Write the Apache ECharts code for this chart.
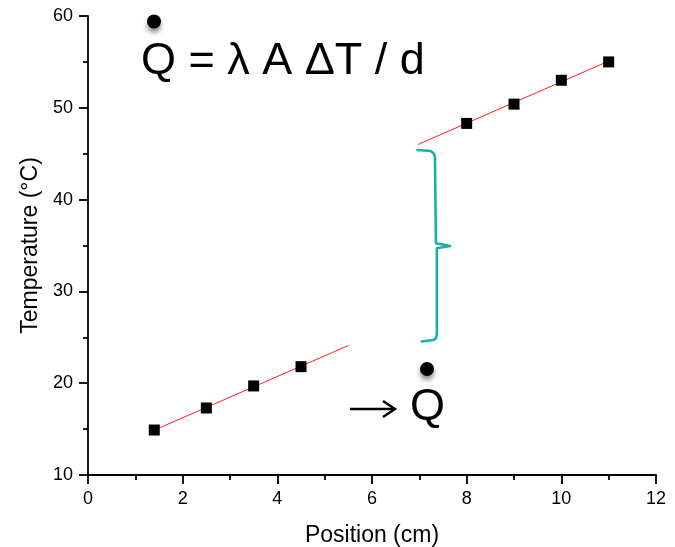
<!DOCTYPE html>
<html>
<head>
<meta charset="utf-8">
<script src="https://cdn.jsdelivr.net/npm/echarts@6/dist/echarts.min.js"></script>
<style>html,body{margin:0;padding:0;background:#fff;}#c{width:675px;height:547px;}</style>
</head>
<body>
<div id="c"></div>
<script>
// Measured data
var lowerX = [1.4, 2.5, 3.5, 4.5];
var lowerY = [14.9, 17.3, 19.7, 21.8];
var upperX = [8, 9, 10, 11];
var upperY = [48.3, 50.4, 53.0, 55.0];
// Fit-line endpoints
var lowerFitX = [1.45, 5.5];
var lowerFitY = [15.0, 24.1];
var upperFitX = [6.97, 11.05];
var upperFitY = [46.0, 55.2];
// Curly brace outline (data coords)
var braceX = [6.96, 7.24, 7.31, 7.33, 7.35, 7.65, 7.37, 7.37, 7.35, 7.30, 7.05];
var braceY = [45.40, 45.30, 45.0, 44.6, 35.25, 34.95, 34.70, 25.3, 24.9, 24.7, 24.55];
var xTicks = [0, 2, 4, 6, 8, 10, 12];
var yTicks = [10, 20, 30, 40, 50, 60];

function zip(a, b) { return a.map(function (v, i) { return [v, b[i]]; }); }

var FONT = "'Liberation Sans', Arial, sans-serif";
var chart = echarts.init(document.getElementById('c'), null, {renderer: 'canvas'});
chart.setOption({
  backgroundColor: '#ffffff',
  animation: false,
  grid: {left: 88, right: 19, top: 16, bottom: 72, containLabel: false, outerBoundsMode: 'none'},
  xAxis: {
    type: 'value', min: xTicks[0], max: xTicks[xTicks.length - 1], interval: 2,
    name: 'Position (cm)', nameLocation: 'middle', nameGap: 49,
    nameTextStyle: {fontFamily: FONT, fontSize: 23, color: '#000'},
    axisLine: {onZero: false, lineStyle: {color: '#000', width: 1.8}},
    axisTick: {show: true, inside: false, length: 9, lineStyle: {color: '#000', width: 1.8}},
    minorTick: {show: true, splitNumber: 2, length: 5, lineStyle: {color: '#000', width: 1.8}},
    axisLabel: {fontFamily: FONT, fontSize: 18, color: '#000', margin: 15},
    splitLine: {show: false}
  },
  yAxis: {
    type: 'value', min: yTicks[0], max: yTicks[yTicks.length - 1], interval: 10,
    name: 'Temperature (°C)', nameLocation: 'middle', nameGap: 41,
    nameTextStyle: {fontFamily: FONT, fontSize: 23, color: '#000'},
    axisLine: {onZero: false, lineStyle: {color: '#000', width: 1.8}},
    axisTick: {show: true, inside: false, length: 9, lineStyle: {color: '#000', width: 1.8}},
    minorTick: {show: true, splitNumber: 2, length: 5, lineStyle: {color: '#000', width: 1.8}},
    axisLabel: {fontFamily: FONT, fontSize: 18, color: '#000', margin: 15},
    splitLine: {show: false}
  },
  series: [
    {type: 'line', data: zip(lowerFitX, lowerFitY), showSymbol: false, symbol: 'none',
     lineStyle: {color: '#ff2020', width: 1}, z: 2, silent: true},
    {type: 'line', data: zip(upperFitX, upperFitY), showSymbol: false, symbol: 'none',
     lineStyle: {color: '#ff2020', width: 1}, z: 2, silent: true},
    {type: 'scatter', data: zip(lowerX, lowerY), symbol: 'rect', symbolSize: 11,
     itemStyle: {color: '#000', opacity: 1}, z: 3},
    {type: 'scatter', data: zip(upperX, upperY), symbol: 'rect', symbolSize: 11,
     itemStyle: {color: '#000', opacity: 1}, z: 3},
    {type: 'line', data: zip(braceX, braceY), showSymbol: false, symbol: 'none',
     lineStyle: {color: '#17b2a6', width: 2.6, cap: 'round', join: 'round'}, z: 2, silent: true}
  ],
  graphic: [
    {type: 'circle', shape: {cx: 154, cy: 21.5, r: 7}, style: {fill: '#000', shadowColor: 'rgba(0,0,0,0.45)', shadowBlur: 5, shadowOffsetY: 4}, z: 10},
    {type: 'text', style: {x: 141, y: 62, text: 'Q = λ A ΔT / d', font: '45px ' + FONT, fill: '#000', textAlign: 'left', textVerticalAlign: 'middle'}, z: 10},
    {type: 'circle', shape: {cx: 427, cy: 369, r: 7}, style: {fill: '#000', shadowColor: 'rgba(0,0,0,0.45)', shadowBlur: 5, shadowOffsetY: 4}, z: 10},
    {type: 'line', shape: {x1: 350, y1: 409, x2: 394, y2: 409}, style: {stroke: '#000', lineWidth: 2.4}, z: 10},
    {type: 'polyline', shape: {points: [[383, 401], [395, 409], [383, 417]]}, style: {stroke: '#000', lineWidth: 2.4, fill: null}, z: 10},
    {type: 'text', style: {x: 410, y: 408, text: 'Q', font: '45px ' + FONT, fill: '#000', textAlign: 'left', textVerticalAlign: 'middle'}, z: 10}
  ]
});
</script>
</body>
</html>
